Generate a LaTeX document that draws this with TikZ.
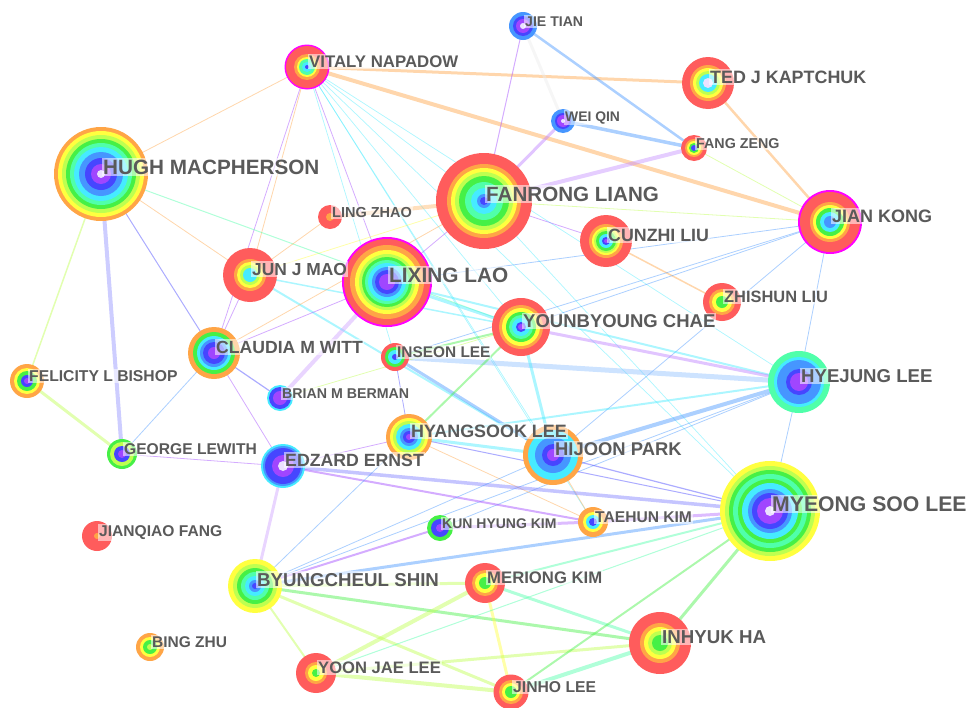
\documentclass[tikz,border=0pt]{standalone}
\usepackage{fontspec}
\setmainfont{Liberation Sans}
\definecolor{cR}{RGB}{255,92,92}
\definecolor{cO}{RGB}{255,165,70}
\definecolor{cY}{RGB}{255,255,64}
\definecolor{cYG}{RGB}{190,255,80}
\definecolor{cG}{RGB}{70,240,70}
\definecolor{cM}{RGB}{80,255,170}
\definecolor{cC}{RGB}{70,235,255}
\definecolor{cLB}{RGB}{70,150,255}
\definecolor{cB}{RGB}{70,70,255}
\definecolor{cP}{RGB}{160,70,255}
\definecolor{cMag}{RGB}{255,0,255}
\definecolor{cW}{RGB}{235,225,255}
\definecolor{labgray}{RGB}{90,90,90}
\newcommand{\treering}[2]{\foreach \rr/\cc in {#2} {\fill[\cc] (#1) circle[radius=\rr pt];}}
\tikzset{
  ed/.style 2 args={draw=#1, line width=#2pt, opacity=0.45, line cap=round},
  lab/.style={anchor=base west, font=\fontsize{#1}{#1}\selectfont\bfseries, text=labgray,
    fill=white, fill opacity=0.55, text opacity=1, inner xsep=1pt, inner ysep=1.5pt, xshift=1pt}
}
\begin{document}
\begin{tikzpicture}[x=1pt,y=-1pt]
\useasboundingbox (0,0) rectangle (974,707);
% centres
\coordinate (hugh) at (101,174);
\coordinate (vitaly) at (307,67);
\coordinate (jie) at (523,26);
\coordinate (ted) at (708,83);
\coordinate (wei) at (563,121);
\coordinate (fang) at (694,148);
\coordinate (fanrong) at (484,201);
\coordinate (ling) at (330,217);
\coordinate (jian) at (830,222);
\coordinate (cunzhi) at (606,241);
\coordinate (jun) at (250,275);
\coordinate (lixing) at (387,282);
\coordinate (zhishun) at (722,302);
\coordinate (chae) at (521,327);
\coordinate (witt) at (214,353);
\coordinate (inseon) at (395,357);
\coordinate (felicity) at (27,381);
\coordinate (brian) at (280,398);
\coordinate (hyejung) at (799,382);
\coordinate (hyang) at (409,437);
\coordinate (hijoon) at (553,455);
\coordinate (george) at (122,454);
\coordinate (edzard) at (283,466);
\coordinate (myeong) at (770,511);
\coordinate (jianqiao) at (97,536);
\coordinate (kun) at (440,528);
\coordinate (taehun) at (593,522);
\coordinate (shin) at (255,586);
\coordinate (meriong) at (485,583);
\coordinate (bing) at (150,647);
\coordinate (inhyuk) at (660,643);
\coordinate (yoon) at (316,673);
\coordinate (jinho) at (511,692);
% edges
\draw[ed={cO}{3}] (vitaly) -- (ted);
\draw[ed={cO}{4}] (vitaly) -- (jian);
\draw[ed={cO}{0.8}] (vitaly) -- (hugh);
\draw[ed={cO}{0.8}] (vitaly) -- (jun);
\draw[ed={cP}{0.8}] (vitaly) -- (witt);
\draw[ed={cP}{0.8}] (vitaly) -- (lixing);
\draw[ed={cC}{0.7}] (vitaly) -- (hijoon);
\draw[ed={cC}{0.7}] (vitaly) -- (chae);
\draw[ed={cC}{0.7}] (vitaly) -- (myeong);
\draw[ed={cC}{0.7}] (vitaly) -- (fanrong);
\draw[ed={cC}{0.7}] (vitaly) -- (hyejung);
\draw[ed={cC}{0.7}] (vitaly) -- (taehun);
\draw[ed={cC}{0.7}] (vitaly) -- (inseon);
\draw[ed={cP}{1}] (jie) -- (fanrong);
\draw[ed={cLB}{2.5}] (jie) -- (fang);
\draw[ed={black!8}{3}] (jie) -- (wei);
\draw[ed={cLB}{3.5}] (wei) -- (fang);
\draw[ed={cP!70}{3}] (wei) -- (fanrong);
\draw[ed={cP!60}{4}] (fang) -- (fanrong);
\draw[ed={cYG}{0.8}] (fang) -- (jian);
\draw[ed={cO}{2.5}] (ted) -- (jian);
\draw[ed={cO!80}{4}] (fanrong) -- (ling);
\draw[ed={cYG}{0.8}] (fanrong) -- (jian);
\draw[ed={cP}{0.8}] (fanrong) -- (cunzhi);
\draw[ed={cP}{0.8}] (fanrong) -- (lixing);
\draw[ed={cY}{0.8}] (fanrong) -- (jun);
\draw[ed={cC}{0.7}] (fanrong) -- (myeong);
\draw[ed={cO}{1.5}] (cunzhi) -- (zhishun);
\draw[ed={cLB}{0.8}] (jian) -- (chae);
\draw[ed={cLB}{0.8}] (jian) -- (inseon);
\draw[ed={cLB}{0.8}] (jian) -- (hijoon);
\draw[ed={cLB}{0.8}] (jian) -- (lixing);
\draw[ed={cLB}{0.8}] (jian) -- (hyejung);
\draw[ed={cB!60}{4}] (hugh) -- (george);
\draw[ed={cYG}{1.5}] (hugh) -- (felicity);
\draw[ed={cB}{1}] (hugh) -- (witt);
\draw[ed={cO}{0.8}] (hugh) -- (jun);
\draw[ed={cM}{1}] (hugh) -- (chae);
\draw[ed={cO}{0.8}] (ling) -- (jun);
\draw[ed={cC}{2}] (jun) -- (hijoon);
\draw[ed={cC}{1.5}] (jun) -- (chae);
\draw[ed={cP}{0.8}] (jun) -- (witt);
\draw[ed={cP!50}{4}] (lixing) -- (brian);
\draw[ed={cP}{0.8}] (witt) -- (lixing);
\draw[ed={cO}{0.8}] (witt) -- (fanrong);
\draw[ed={cC}{3}] (lixing) -- (chae);
\draw[ed={cC}{2}] (lixing) -- (hyejung);
\draw[ed={cLB!60}{5}] (inseon) -- (hyejung);
\draw[ed={cLB}{3}] (inseon) -- (hijoon);
\draw[ed={cB}{0.8}] (inseon) -- (hyang);
\draw[ed={cYG}{0.8}] (brian) -- (chae);
\draw[ed={cP!70}{3}] (chae) -- (hyejung);
\draw[ed={cC}{3}] (chae) -- (hijoon);
\draw[ed={cG}{2}] (chae) -- (hyang);
\draw[ed={cG}{2}] (chae) -- (inseon);
\draw[ed={cLB}{4}] (hyejung) -- (hijoon);
\draw[ed={cC}{2}] (hyejung) -- (hyang);
\draw[ed={cLB}{0.8}] (hyejung) -- (myeong);
\draw[ed={cLB}{0.8}] (hyejung) -- (kun);
\draw[ed={cLB}{0.8}] (hyejung) -- (shin);
\draw[ed={cC}{3}] (hyang) -- (hijoon);
\draw[ed={cB}{1}] (hyang) -- (myeong);
\draw[ed={cO}{0.8}] (hyang) -- (taehun);
\draw[ed={cP}{0.8}] (hyang) -- (edzard);
\draw[ed={cB}{1.2}] (hijoon) -- (myeong);
\draw[ed={cO}{0.8}] (hijoon) -- (taehun);
\draw[ed={cP!80}{3}] (kun) -- (taehun);
\draw[ed={cP!80}{3}] (taehun) -- (myeong);
\draw[ed={cB!70}{3.5}] (edzard) -- (myeong);
\draw[ed={cP}{2}] (edzard) -- (taehun);
\draw[ed={cP!50}{3}] (edzard) -- (shin);
\draw[ed={cB}{1.2}] (witt) -- (brian);
\draw[ed={cP}{0.8}] (witt) -- (edzard);
\draw[ed={cLB}{0.8}] (witt) -- (george);
\draw[ed={cYG}{3}] (felicity) -- (george);
\draw[ed={cP}{0.8}] (george) -- (edzard);
\draw[ed={cLB}{3}] (shin) -- (myeong);
\draw[ed={cP}{2}] (shin) -- (kun);
\draw[ed={cLB}{0.8}] (shin) -- (hyang);
\draw[ed={cLB}{0.8}] (shin) -- (hijoon);
\draw[ed={cYG}{3}] (shin) -- (meriong);
\draw[ed={cG}{3}] (shin) -- (inhyuk);
\draw[ed={cYG}{3}] (shin) -- (jinho);
\draw[ed={cYG}{2}] (shin) -- (yoon);
\draw[ed={cYG}{4}] (meriong) -- (yoon);
\draw[ed={cY}{3}] (meriong) -- (jinho);
\draw[ed={cM}{3}] (meriong) -- (inhyuk);
\draw[ed={cM}{2}] (meriong) -- (myeong);
\draw[ed={cYG}{3}] (yoon) -- (inhyuk);
\draw[ed={cYG}{4}] (yoon) -- (jinho);
\draw[ed={cM}{1}] (yoon) -- (myeong);
\draw[ed={cM}{4}] (jinho) -- (inhyuk);
\draw[ed={cG}{2}] (jinho) -- (myeong);
\draw[ed={cG}{3}] (inhyuk) -- (myeong);
% tree rings
\treering{hugh}{47/cO,43/cY,39/cYG,35/cG,31/cM,27/cC,22/cLB,16/cB,10/cP,4/cW}
\treering{vitaly}{22.5/cMag,21/cR,13/cO,10/cY,8/cM,5/cC,2/cB}
\treering{jie}{14/cLB,10/cB,7/cP,3/cW}
\treering{ted}{26/cR,18/cO,15/cY,12/cYG,9/cC,5/cW}
\treering{wei}{12/cLB,8/cB,6/cP,2/cW}
\treering{fang}{13/cR,9/cO,7/cY,5/cG,3/cB}
\treering{fanrong}{48/cR,37/cO,33/cY,29/cYG,25/cG,19/cM,13/cC,7/cLB,4/cB}
\treering{ling}{12/cR,4/cO}
\treering{jian}{32/cMag,30/cR,20/cO,17/cY,14/cG,10/cC,6/cLB}
\treering{cunzhi}{26/cR,17/cO,14/cY,12/cYG,10/cG,7/cC,4/cB,2/cP}
\treering{jun}{27/cR,16/cO,13/cY,10/cYG,7/cC}
\treering{lixing}{45/cMag,43/cR,37/cO,32/cY,28/cYG,25/cG,22/cM,19/cC,15/cLB,12/cB,8/cP}
\treering{zhishun}{19/cR,13/cO,10/cY,6/cG}
\treering{chae}{29/cR,22/cO,19/cY,15/cG,12/cM,9/cC,5/cB,3/cP}
\treering{witt}{26/cO,21/cG,17/cC,14/cLB,11/cB,6/cP}
\treering{inseon}{14/cR,10/cG,7/cC,3/cB}
\treering{felicity}{17/cO,13/cY,10/cG,6/cB,3/cP}
\treering{brian}{13/cC,11/cB,7/cP}
\treering{hyejung}{31/cM,25/cC,22/cLB,13/cB,9/cP}
\treering{hyang}{23/cO,19/cY,16/cYG,13/cC,9/cLB,6/cB,3/cP}
\treering{hijoon}{30/cO,25/cC,18/cLB,11/cB,6/cP}
\treering{george}{15/cG,12/cYG,8/cB,4/cP}
\treering{edzard}{22/cC,20/cLB,18/cB,11/cP,5/cW}
\treering{myeong}{50/cY,45/cYG,41/cG,37/cM,32/cG,28/cC,22/cLB,18/cB,13/cP,5/cW}
\treering{jianqiao}{15/cR,3/cO}
\treering{kun}{13/cG,9/cB,4/cP}
\treering{taehun}{15/cO,10/cY,7/cC,4/cB}
\treering{shin}{27/cY,22/cYG,18/cG,14/cM,10/cC,6/cLB,3/cB}
\treering{meriong}{20/cR,13/cO,10/cY,6/cG}
\treering{bing}{14/cO,10/cY,7/cG,3/cYG}
\treering{inhyuk}{31/cR,20/cO,16/cY,12/cYG,8/cG}
\treering{yoon}{20/cR,11/cO,8/cY,4/cG}
\treering{jinho}{17.5/cR,12/cO,9/cY,6/cG}
% labels
\node[lab=20.7] (hugh-t) at (hugh) {HUGH MACPHERSON};
\node[lab=16.8] (vitaly-t) at (vitaly) {VITALY NAPADOW};
\node[lab=14.1] (jie-t) at (jie) {JIE TIAN};
\node[lab=17.9] (ted-t) at (ted) {TED J KAPTCHUK};
\node[lab=13.9] (wei-t) at (wei) {WEI QIN};
\node[lab=14.3] (fang-t) at (fang) {FANG ZENG};
\node[lab=20.6] (fanrong-t) at (fanrong) {FANRONG LIANG};
\node[lab=14.5] (ling-t) at (ling) {LING ZHAO};
\node[lab=18] (jian-t) at (jian) {JIAN KONG};
\node[lab=17.8] (cunzhi-t) at (cunzhi) {CUNZHI LIU};
\node[lab=17.4] (jun-t) at (jun) {JUN J MAO};
\node[lab=20.8] (lixing-t) at (lixing) {LIXING LAO};
\node[lab=16.4] (zhishun-t) at (zhishun) {ZHISHUN LIU};
\node[lab=18.5] (chae-t) at (chae) {YOUNBYOUNG CHAE};
\node[lab=17.6] (witt-t) at (witt) {CLAUDIA M WITT};
\node[lab=15.4] (inseon-t) at (inseon) {INSEON LEE};
\node[lab=15.7] (felicity-t) at (felicity) {FELICITY L BISHOP};
\node[lab=14.2] (brian-t) at (brian) {BRIAN M BERMAN};
\node[lab=18.6] (hyejung-t) at (hyejung) {HYEJUNG LEE};
\node[lab=17.9] (hyang-t) at (hyang) {HYANGSOOK LEE};
\node[lab=18.4] (hijoon-t) at (hijoon) {HIJOON PARK};
\node[lab=15.6] (george-t) at (george) {GEORGE LEWITH};
\node[lab=17.7] (edzard-t) at (edzard) {EDZARD ERNST};
\node[lab=21.2] (myeong-t) at (myeong) {MYEONG SOO LEE};
\node[lab=15.6] (jianqiao-t) at (jianqiao) {JIANQIAO FANG};
\node[lab=14] (kun-t) at (kun) {KUN HYUNG KIM};
\node[lab=15.6] (taehun-t) at (taehun) {TAEHUN KIM};
\node[lab=18.7] (shin-t) at (shin) {BYUNGCHEUL SHIN};
\node[lab=16.7] (meriong-t) at (meriong) {MERIONG KIM};
\node[lab=15.5] (bing-t) at (bing) {BING ZHU};
\node[lab=18.7] (inhyuk-t) at (inhyuk) {INHYUK HA};
\node[lab=16.6] (yoon-t) at (yoon) {YOON JAE LEE};
\node[lab=15.7] (jinho-t) at (jinho) {JINHO LEE};
\end{tikzpicture}
\end{document}
